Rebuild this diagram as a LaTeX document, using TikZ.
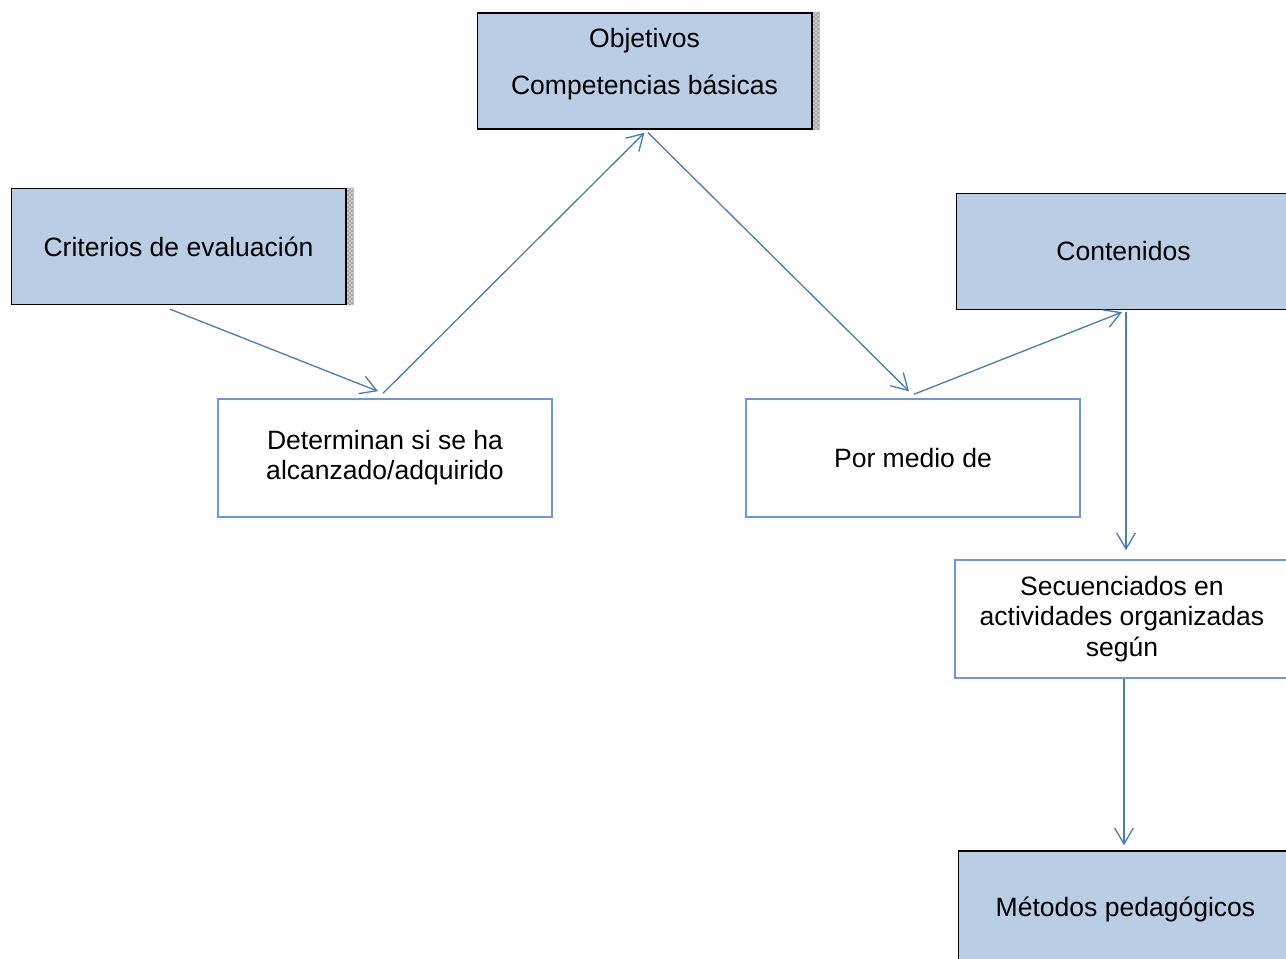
\documentclass[tikz,border=0pt]{standalone}
\usepackage{fontspec}
\setmainfont{Liberation Sans}
\usetikzlibrary{arrows.meta,positioning,calc,patterns}
\definecolor{cajaazul}{RGB}{185,205,229}
\definecolor{bordeazul}{RGB}{110,148,230}
\definecolor{flecha}{RGB}{74,126,187}
\tikzset{
	caja/.style={draw=black,fill=cajaazul,line width=1pt,minimum width=251pt,minimum height=87pt,inner sep=0pt,align=center,font=\fontsize{19.9}{22.7}\selectfont},
	cajablanca/.style={draw=bordeazul,fill=white,line width=1.1pt,minimum width=250.5pt,minimum height=88.5pt,inner sep=0pt,align=center,font=\fontsize{19.9}{22.7}\selectfont},
	texto/.style={inner sep=0pt,font=\fontsize{19.9}{22.7}\selectfont},
	sombra/.style={draw=none,pattern=crosshatch dots,pattern color=black!70},
	conector/.style={draw=flecha,line width=1pt,-{Straight Barb[length=12pt,width=14pt,line width=1pt]}}
}
\begin{document}
\begin{tikzpicture}[x=0.75pt,y=-0.75pt]
	\useasboundingbox (0,0) rectangle (1286,959);
	\clip (0,0) rectangle (1286,959);
	% cajas azules
	\node[caja] (obj) at (644.5,71) {};
	\node[texto] (objA) at (644.5,41) {Objetivos};
	\node[texto] (objB) at (644.5,87) {Competencias básicas};
	\fill[gray!45] (obj.north east) rectangle ($(obj.south east)+(7,0)$);
	\fill[sombra] (obj.north east) rectangle ($(obj.south east)+(7,0)$);
	\node[caja] (crit) at (178.5,246.5) {Criterios de evaluación};
	\fill[gray!45] (crit.north east) rectangle ($(crit.south east)+(7,0)$);
	\fill[sombra] (crit.north east) rectangle ($(crit.south east)+(7,0)$);
	\node[caja] (cont) at (1123.5,251.5) {Contenidos};
	\node[caja] (met) at (1125.5,909) {Métodos pedagógicos};
	% cajas blancas
	\node[cajablanca] (det) at (385,458) {Determinan si se ha\\alcanzado/adquirido};
	\node[cajablanca] (pmd) at (913,458) {Por medio de};
	\node[cajablanca] (sec) at (1122,619) {Secuenciados en\\actividades organizadas\\según};
	% flechas
	\draw[conector] ($(crit.south)+(-8.5,4)$) -- ($(det.north)+(-7,-7)$);
	\draw[conector] ($(det.north)+(-2,-5)$) -- ($(obj.south)+(0,3)$);
	\draw[conector] ($(obj.south)+(3.5,3)$) -- ($(pmd.north)+(-4,-7)$);
	\draw[conector] ($(pmd.north)+(1,-4)$) -- ($(cont.south)+(-1.5,2)$);
	\draw[conector] ($(cont.south)+(2.5,2)$) -- ($(sec.north)+(4,-9)$);
	\draw[conector] ($(sec.south)+(2,0)$) -- ($(met.north)+(-1.5,-5)$);
\end{tikzpicture}
\end{document}
